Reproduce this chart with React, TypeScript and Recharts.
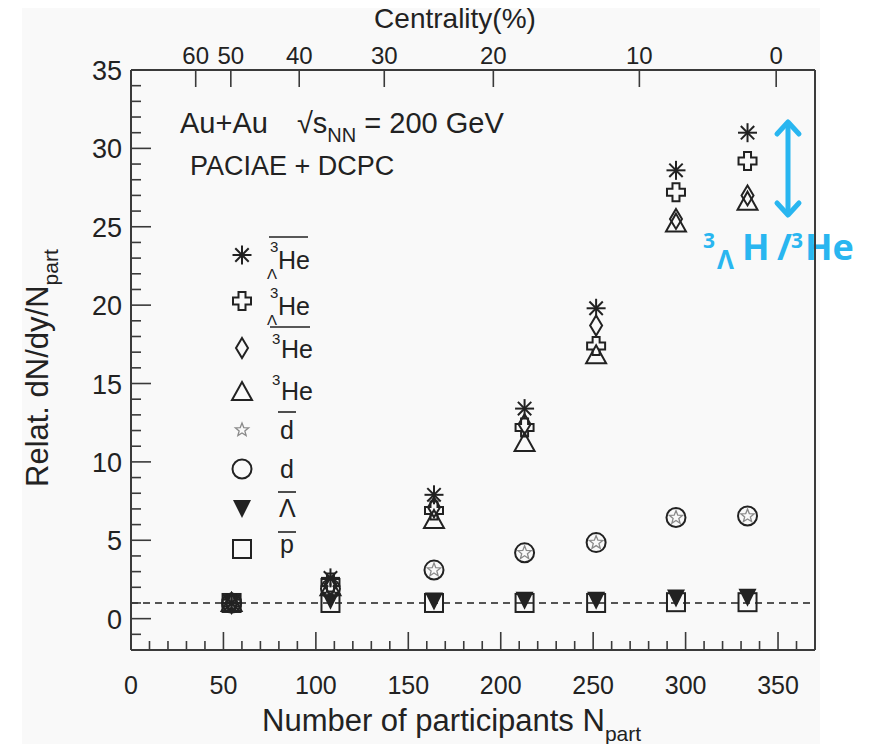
import React from 'react';
import { ScatterChart, Scatter, XAxis, YAxis, ReferenceLine } from 'recharts';

// Npart of each centrality bin
const npart = [54.4, 107.9, 163.9, 212.9, 251.6, 294.8, 333.5];

// relative dN/dy/Npart per species
const antiHyperHe3 = [1.0, 2.6, 7.9, 13.4, 19.8, 28.6, 31.0];
const hyperHe3 = [1.0, 2.3, 6.9, 12.2, 17.4, 27.2, 29.2];
const antiHe3 = [1.0, 2.1, 7.1, 12.4, 18.7, 25.5, 27.0];
const he3 = [1.0, 2.0, 6.3, 11.2, 16.8, 25.2, 26.6];
const antiD = [1.0, 1.9, 3.1, 4.2, 4.85, 6.45, 6.55];
const deut = [1.0, 1.9, 3.1, 4.2, 4.85, 6.45, 6.55];
const antiLambda = [1.0, 1.2, 1.15, 1.2, 1.2, 1.35, 1.4];
const antiP = [1.0, 1.0, 1.0, 1.0, 1.0, 1.05, 1.05];

// top axis: centrality labels and where they sit in Npart
const centralityLabels = ['60', '50', '40', '30', '20', '10', '0'];
const centralityNpart = [35, 54, 91, 137, 196, 275, 349];

const FONT = '"Liberation Sans", Arial, Helvetica, sans-serif';
const INK = '#222';
const AXIS = '#3a3a3a';
const BLUE = '#29b6f0';

const xTicks: number[] = [];
for (let v = 0; v <= 360; v += 10) xTicks.push(v);
const yTicks: number[] = [];
for (let v = -2; v <= 35; v += 1) yTicks.push(v);

type Kind = 'asterisk' | 'cross' | 'diamond' | 'triangle' | 'star' | 'circle' | 'tridown' | 'square';

function Marker({ kind, cx, cy }: { kind: Kind; cx: number; cy: number }) {
  const sw = 2;
  switch (kind) {
    case 'asterisk': {
      const r = 9.5, d = 6.7;
      return (
        <g stroke={INK} strokeWidth={sw}>
          <line x1={cx} y1={cy - r} x2={cx} y2={cy + r} />
          <line x1={cx - r} y1={cy} x2={cx + r} y2={cy} />
          <line x1={cx - d} y1={cy - d} x2={cx + d} y2={cy + d} />
          <line x1={cx - d} y1={cy + d} x2={cx + d} y2={cy - d} />
        </g>
      );
    }
    case 'cross': {
      const r = 9, a = 3.5;
      const p = `M${cx - a},${cy - r}H${cx + a}V${cy - a}H${cx + r}V${cy + a}H${cx + a}V${cy + r}H${cx - a}V${cy + a}H${cx - r}V${cy - a}H${cx - a}Z`;
      return <path d={p} fill="none" stroke={INK} strokeWidth={sw} />;
    }
    case 'diamond':
      return <path d={`M${cx},${cy - 10}L${cx + 6},${cy}L${cx},${cy + 10}L${cx - 6},${cy}Z`} fill="none" stroke={INK} strokeWidth={sw} />;
    case 'triangle':
      return <path d={`M${cx},${cy - 10}L${cx + 10},${cy + 8}L${cx - 10},${cy + 8}Z`} fill="none" stroke={INK} strokeWidth={sw} />;
    case 'star': {
      let p = '';
      for (let i = 0; i < 10; i++) {
        const rr = i % 2 === 0 ? 7 : 3;
        const ang = -Math.PI / 2 + (i * Math.PI) / 5;
        p += `${i === 0 ? 'M' : 'L'}${cx + rr * Math.cos(ang)},${cy + rr * Math.sin(ang)}`;
      }
      return <path d={p + 'Z'} fill="none" stroke="#8a8a8a" strokeWidth={1.3} />;
    }
    case 'circle':
      return <circle cx={cx} cy={cy} r={9.5} fill="none" stroke={INK} strokeWidth={sw} />;
    case 'tridown':
      return <path d={`M${cx - 9},${cy - 8}L${cx + 9},${cy - 8}L${cx},${cy + 10}Z`} fill={INK} />;
    case 'square':
      return <rect x={cx - 9} y={cy - 9} width={18} height={18} fill="none" stroke={INK} strokeWidth={sw} />;
  }
  return null;
}

const shapeOf = (kind: Kind) => (props: any) => <Marker kind={kind} cx={props.cx} cy={props.cy} />;

const toPoints = (vals: number[]) => vals.map((y, i) => ({ x: npart[i], y }));

const series: { kind: Kind; vals: number[] }[] = [
  { kind: 'square', vals: antiP },
  { kind: 'tridown', vals: antiLambda },
  { kind: 'circle', vals: deut },
  { kind: 'star', vals: antiD },
  { kind: 'triangle', vals: he3 },
  { kind: 'diamond', vals: antiHe3 },
  { kind: 'cross', vals: hyperHe3 },
  { kind: 'asterisk', vals: antiHyperHe3 },
];

function BottomTick({ x, y, payload }: any) {
  const v = payload.value;
  const major = v % 50 === 0;
  return (
    <g>
      <line x1={x} x2={x} y1={y} y2={y - (major ? 18 : 9)} stroke={AXIS} strokeWidth={1.6} />
      {major && (
        <text x={x} y={y + 44} textAnchor="middle" fontFamily={FONT} fontSize={25} fill={INK}>
          {v}
        </text>
      )}
    </g>
  );
}

function LeftTick({ x, y, payload }: any) {
  const v = payload.value;
  const major = v % 5 === 0;
  return (
    <g>
      <line x1={x} x2={x + (major ? 20 : 10)} y1={y} y2={y} stroke={AXIS} strokeWidth={1.6} />
      {major && (
        <text x={x - 9} y={y + 10} textAnchor="end" fontFamily={FONT} fontSize={27} fill={INK}>
          {v}
        </text>
      )}
    </g>
  );
}

function TopTick({ x, y, index }: any) {
  return (
    <g>
      <line x1={x} x2={x} y1={y} y2={y + 17} stroke={AXIS} strokeWidth={1.6} />
      <text x={x} y={y - 6} textAnchor="middle" fontFamily={FONT} fontSize={24} fill={INK}>
        {centralityLabels[index]}
      </text>
    </g>
  );
}

// legend rows: marker kind and y of row centre
const legendKinds: Kind[] = ['asterisk', 'cross', 'diamond', 'triangle', 'star', 'circle', 'tridown', 'square'];
const legendRowY = [255, 301, 348, 392, 430, 469, 508, 549];

function LegendLabels() {
  const t = { fontFamily: FONT, fill: INK } as const;
  const ol = (x1: number, x2: number, y: number) => <line x1={x1} x2={x2} y1={y} y2={y} stroke={INK} strokeWidth={1.6} />;
  return (
    <g>
      {legendKinds.map((k, i) => (
        <Marker key={k} kind={k} cx={242} cy={legendRowY[i]} />
      ))}
      {/* anti-hyper */}
      {ol(269, 308, 237)}
      <text x={270} y={252} fontSize={15} {...t}>3</text>
      <text x={267} y={279} fontSize={15} {...t}>Λ</text>
      <text x={278} y={269} fontSize={25} {...t}>He</text>
      {/* hyper */}
      <text x={270} y={298} fontSize={15} {...t}>3</text>
      <text x={267} y={325} fontSize={15} {...t}>Λ</text>
      <text x={278} y={315} fontSize={25} {...t}>He</text>
      {/* anti He3 */}
      {ol(270, 310, 327)}
      <text x={272} y={344} fontSize={15} {...t}>3</text>
      <text x={281} y={358} fontSize={25} {...t}>He</text>
      {/* He3 */}
      <text x={272} y={385} fontSize={15} {...t}>3</text>
      <text x={281} y={400} fontSize={25} {...t}>He</text>
      {/* dbar, d, lambda bar, pbar */}
      {ol(278, 296, 412)}
      <text x={280} y={439} fontSize={25} {...t}>d</text>
      <text x={280} y={478} fontSize={25} {...t}>d</text>
      {ol(278, 296, 492)}
      <text x={279} y={517} fontSize={25} {...t}>Λ</text>
      {ol(278, 296, 532)}
      <text x={280} y={553} fontSize={25} {...t}>p</text>
    </g>
  );
}

function Annotations() {
  return (
    <g fontFamily={FONT} fill={INK}>
      <text x={455} y={28} textAnchor="middle" fontSize={28}>Centrality(%)</text>
      <text x={262} y={731} fontSize={31}>
        Number of participants N<tspan fontSize={21} dy={10}>part</tspan>
      </text>
      <text transform="translate(48,487) rotate(-90)" fontSize={31}>
        Relat. dN/dy/N<tspan fontSize={21} dy={10}>part</tspan>
      </text>
      <text x={180} y={133} fontSize={29}>
        Au+Au{'\u2003'}√s<tspan fontSize={20} dy={9}>NN</tspan>
        <tspan dy={-9}> = 200 GeV</tspan>
      </text>
      <text x={190} y={175} fontSize={27}>PACIAE + DCPC</text>
      <g stroke={BLUE} strokeWidth={5} strokeLinecap="round" strokeLinejoin="round" fill="none">
        <line x1={788} y1={124} x2={788} y2={213} />
        <polyline points="777,134 788,122 799,134" />
        <polyline points="777,203 788,215 799,203" />
      </g>
      <g fill={BLUE} fontFamily='"Open Sans", sans-serif' fontWeight={700}>
        <text x={703} y={248} fontSize={21}>3</text>
        <text x={717} y={269} fontSize={26}>Λ</text>
        <text x={742} y={260} fontSize={36}>H</text>
        <text x={777} y={260} fontSize={36}>/</text>
        <text x={791} y={248} fontSize={21}>3</text>
        <text x={805} y={260} fontSize={36}>He</text>
      </g>
    </g>
  );
}

export default function App() {
  return (
    <div style={{ position: 'absolute', left: 0, top: 0, width: 871, height: 744, background: '#fff' }}>
      <div style={{ position: 'absolute', left: 22, top: 8, width: 798, height: 736, background: '#f9f9f9' }} />
      <div style={{ position: 'absolute', left: 0, top: 0 }}>
        <ScatterChart width={871} height={744} margin={{ top: 40, right: 55, bottom: 54, left: 71 }}>
          <XAxis
            type="number"
            dataKey="x"
            domain={[0, 370]}
            ticks={xTicks}
            interval={0}
            height={40}
            tickSize={0}
            tickMargin={0}
            tickLine={false}
            axisLine={{ stroke: AXIS, strokeWidth: 2 }}
            tick={<BottomTick />}
            allowDataOverflow
          />
          <XAxis
            xAxisId="top"
            orientation="top"
            type="number"
            dataKey="x"
            domain={[0, 370]}
            ticks={centralityNpart}
            interval={0}
            height={30}
            tickSize={0}
            tickMargin={0}
            tickLine={false}
            axisLine={{ stroke: AXIS, strokeWidth: 2 }}
            tick={<TopTick />}
            allowDataOverflow
          />
          <YAxis
            type="number"
            dataKey="y"
            domain={[-2, 35]}
            ticks={yTicks}
            interval={0}
            width={60}
            tickSize={0}
            tickMargin={0}
            tickLine={false}
            axisLine={{ stroke: AXIS, strokeWidth: 2 }}
            tick={<LeftTick />}
            allowDataOverflow
          />
          <YAxis
            yAxisId="r"
            orientation="right"
            type="number"
            domain={[-2, 35]}
            width={1}
            tick={false}
            tickLine={false}
            axisLine={{ stroke: AXIS, strokeWidth: 2 }}
          />
          <ReferenceLine y={1} stroke="#555" strokeWidth={2} strokeDasharray="7 5" />
          {series.map((s) => (
            <Scatter key={s.kind} data={toPoints(s.vals)} shape={shapeOf(s.kind)} isAnimationActive={false} />
          ))}
          <LegendLabels />
          <Annotations />
        </ScatterChart>
      </div>
    </div>
  );
}
